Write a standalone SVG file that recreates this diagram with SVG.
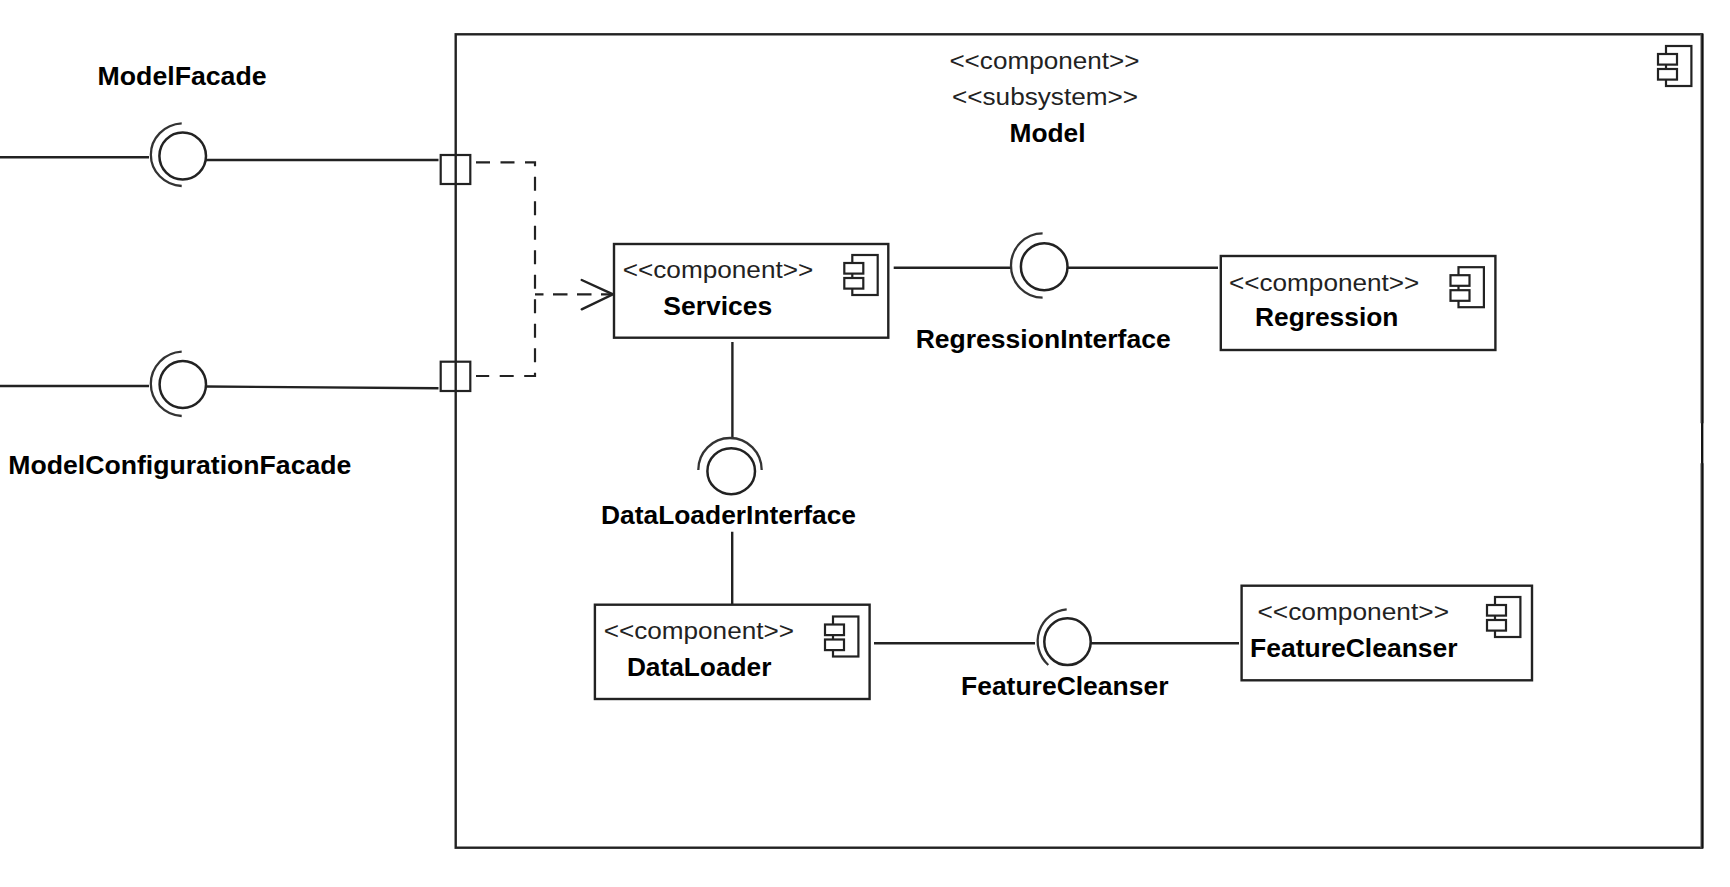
<svg xmlns="http://www.w3.org/2000/svg" width="1730" height="887" viewBox="0 0 1730 887">
<defs>
<g id="icon">
<rect x="8" y="0" width="25.4" height="40" class="s"/>
<rect x="0" y="8" width="19" height="10.6" class="s"/>
<rect x="0" y="23" width="19" height="10.6" class="s"/>
</g>
</defs>
<style>
.s{fill:#fff;stroke:#222;stroke-width:2.2}
.b{fill:#fff;stroke:#222;stroke-width:2.4}
.l{fill:none;stroke:#222;stroke-width:2.4}
.c{fill:#fff;stroke:#222;stroke-width:2.5}
.t{fill:none;stroke:#333;stroke-width:2.3}
.d{fill:none;stroke:#222;stroke-width:2.2}
text{font-family:"Liberation Sans",Arial,sans-serif;fill:#111}
.st{font-size:23px;fill:#222}
.nm{font-size:25px;font-weight:bold;fill:#000}
</style>
<rect width="1730" height="887" fill="#fff"/>
<g id="model">
<rect x="455.7" y="34.3" width="1246.5" height="813.4" class="b"/>
<path d="M1702.2 34V423.3M1702.2 463.3V848" fill="none" stroke="#666" stroke-width="3.6"/>
<path d="M1702.2 34V848" fill="none" stroke="#111" stroke-width="1.6"/>
<use href="#icon" x="1658" y="46"/>
<text class="st" x="949.4" y="69" textLength="190" lengthAdjust="spacingAndGlyphs">&lt;&lt;component&gt;&gt;</text>
<text class="st" x="952" y="105.3" textLength="186" lengthAdjust="spacingAndGlyphs">&lt;&lt;subsystem&gt;&gt;</text>
<text class="nm" x="1009.5" y="141.7" textLength="76" lengthAdjust="spacingAndGlyphs">Model</text>
</g>
<g id="connectors">
<path class="l" d="M0 157.3H149M205.7 160H438.5"/>
<path class="l" d="M0 386H149M205.7 386.5L438.5 388.3"/>
<path class="d" stroke-dasharray="14 10.5" d="M476 162.3H535V376H476"/>
<path class="d" stroke-dasharray="8.5 9.5 14.5 9.5 14.5 9.5 15" d="M535 294.3H612"/>
<path class="l" stroke-width="2.6" stroke-linecap="round" d="M581.7 280L613 294.3L581.7 309.3"/>
<path class="l" d="M893.7 267.7H1011M1067.4 267.7H1218"/>
<path class="l" d="M732.4 342V438M732.2 531.7V604"/>
<path class="l" d="M874 643.3H1035M1091 643.3H1239"/>
</g>
<g id="port-model-facade"><rect x="440.7" y="155" width="29.6" height="29" fill="none" stroke="#222" stroke-width="2.2"/></g>
<g id="port-model-configuration"><rect x="440.7" y="361.7" width="29.6" height="29.3" fill="none" stroke="#222" stroke-width="2.2"/></g>
<g id="ModelFacade">
<ellipse cx="182.7" cy="156" rx="23.3" ry="23.4" class="c"/>
<path class="t" d="M181.7 123.3A32.7 31.4 0 0 0 181.7 186"/>
<text class="nm" x="97.6" y="85" textLength="169" lengthAdjust="spacingAndGlyphs">ModelFacade</text>
</g>
<g id="ModelConfigurationFacade">
<ellipse cx="182.8" cy="384.5" rx="23.2" ry="23.5" class="c"/>
<path class="t" d="M181.7 351.7A32.7 32.2 0 0 0 181.7 416"/>
<text class="nm" x="8.3" y="474.3" textLength="343" lengthAdjust="spacingAndGlyphs">ModelConfigurationFacade</text>
</g>
<g id="RegressionInterface">
<ellipse cx="1044.2" cy="266.7" rx="23.3" ry="23.5" class="c"/>
<path class="t" d="M1042.6 233.3A31.6 32.2 0 0 0 1042.6 297.7"/>
<text class="nm" x="915.7" y="348.3" textLength="255" lengthAdjust="spacingAndGlyphs">RegressionInterface</text>
</g>
<g id="DataLoaderInterface">
<ellipse cx="731.2" cy="471.2" rx="23.8" ry="23" class="c"/>
<path class="t" d="M698.3 470A31.7 32 0 0 1 761.7 470"/>
<text class="nm" x="601" y="524" textLength="255" lengthAdjust="spacingAndGlyphs">DataLoaderInterface</text>
</g>
<g id="FeatureCleanserInterface">
<ellipse cx="1067.5" cy="641.7" rx="23.2" ry="23.4" class="c"/>
<path class="t" d="M1066.7 609.3A32 32 0 0 0 1048.3 665"/>
<text class="nm" x="961" y="695" textLength="207.5" lengthAdjust="spacingAndGlyphs">FeatureCleanser</text>
</g>
<g id="Services">
<rect x="614" y="244" width="274.3" height="93.7" class="b"/>
<use href="#icon" x="844.3" y="255"/>
<text class="st" x="622.7" y="278" textLength="190.6" lengthAdjust="spacingAndGlyphs">&lt;&lt;component&gt;&gt;</text>
<text class="nm" x="663.3" y="314.5" textLength="109" lengthAdjust="spacingAndGlyphs">Services</text>
</g>
<g id="Regression">
<rect x="1220.8" y="256" width="274.6" height="94" class="b"/>
<use href="#icon" x="1450.5" y="267.2"/>
<text class="st" x="1229" y="290.7" textLength="190.3" lengthAdjust="spacingAndGlyphs">&lt;&lt;component&gt;&gt;</text>
<text class="nm" x="1255" y="326" textLength="143.4" lengthAdjust="spacingAndGlyphs">Regression</text>
</g>
<g id="DataLoader">
<rect x="594.9" y="604.7" width="274.7" height="94.3" class="b"/>
<use href="#icon" x="825" y="616.5"/>
<text class="st" x="603.7" y="639.3" textLength="190.3" lengthAdjust="spacingAndGlyphs">&lt;&lt;component&gt;&gt;</text>
<text class="nm" x="626.9" y="676" textLength="144.5" lengthAdjust="spacingAndGlyphs">DataLoader</text>
</g>
<g id="FeatureCleanser">
<rect x="1241.6" y="585.7" width="290.4" height="94.6" class="b"/>
<use href="#icon" x="1487" y="597"/>
<text class="st" x="1257.5" y="620" textLength="191.5" lengthAdjust="spacingAndGlyphs">&lt;&lt;component&gt;&gt;</text>
<text class="nm" x="1250" y="656.7" textLength="207.6" lengthAdjust="spacingAndGlyphs">FeatureCleanser</text>
</g>
</svg>
